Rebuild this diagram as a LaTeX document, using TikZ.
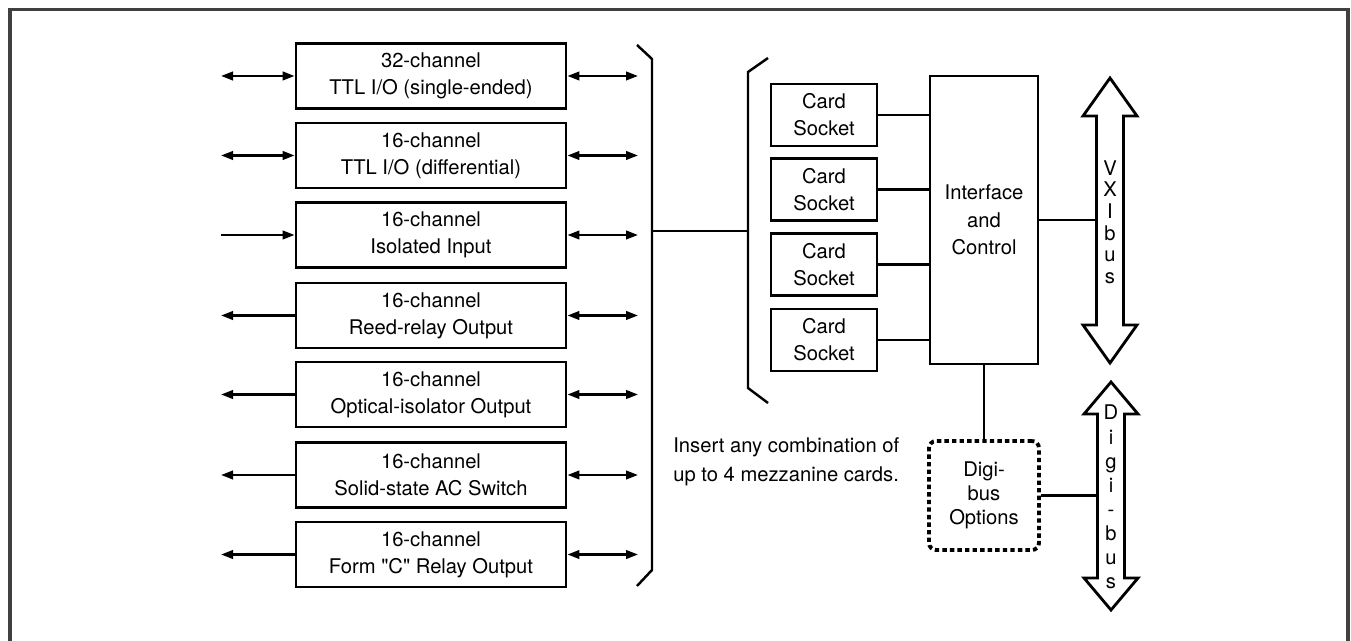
\documentclass[tikz,border=0pt]{standalone}
\usepackage{fontspec}
\setmainfont{TeX Gyre Heros}
\usetikzlibrary{arrows.meta,positioning,calc}

\tikzset{
    >={Triangle[length=0.24cm,width=0.17cm]},
    module/.style={draw,line width=1.6pt,minimum width=5.4cm,minimum height=1.3cm,align=center,inner sep=0pt},
    socket/.style={draw,line width=1.6pt,minimum width=2.12cm,minimum height=1.24cm,align=center,inner sep=0pt},
    wire/.style={line width=1.4pt},
    busshape/.style={draw,line width=1.6pt,fill=white,line join=miter},
    letters/.style={align=center,inner sep=0pt,font=\fontsize{11.5}{12.3}\selectfont},
}
% #1 = centre x, #2 = top tip, #3 = bottom tip, #4 = head length
\newcommand{\busarrow}[4]{%
    \draw[busshape] (#1,#2) -- (#1+27,#2+#4) -- (#1+13.5,#2+#4) -- (#1+13.5,#3-#4)
        -- (#1+27,#3-#4) -- (#1,#3) -- (#1-27,#3-#4) -- (#1-13.5,#3-#4)
        -- (#1-13.5,#2+#4) -- (#1-27,#2+#4) -- cycle;
}

\begin{document}
\begin{tikzpicture}[x=0.02cm,y=-0.02cm,font=\fontsize{11.5}{15.5}\selectfont]
    \useasboundingbox (0,0) rectangle (1351,641);
    \draw[line width=0.07cm,black!75] (10,700) -- (10,9.5) -- (1348,9.5) -- (1348,700);

    % I/O modules
    \foreach \i/\y/\tip/\txt in {1/76/<->/{32-channel\\TTL I/O (single-ended)},
                                 2/155.5/<->/{16-channel\\TTL I/O (differential)},
                                 3/235/->/{16-channel\\Isolated Input},
                                 4/315.5/<-/{16-channel\\Reed-relay Output},
                                 5/394.5/<-/{16-channel\\Optical-isolator Output},
                                 6/475/<-/{16-channel\\Solid-state AC Switch},
                                 7/554.5/<-/{16-channel\\Form \textquotedbl C\textquotedbl\ Relay Output}}
    {
        \node[module] (m\i) at (431,\y) {\txt};
        \coordinate (l\i) at (221,\y);
        \coordinate (r\i) at (638,\y);
        \draw[wire,\tip] (l\i) -- (m\i.west);
        \draw[wire,<->] (m\i.east) -- (r\i);
    }

    % brackets
    \draw[wire] (637,45) -- (652,59) -- (652,570) -- (637,586);
    \draw[wire] (768,58) -- (748,72) -- (748,388) -- (768,403);
    \coordinate (brl) at (652,231);
    \coordinate (brr) at (748,231);
    \draw[wire] (brl) -- (brr);

    % mezzanine sockets
    \foreach \i/\y in {1/115,2/189.5,3/264.5,4/340}
        \node[socket] (s\i) at (824,\y) {Card\\Socket};
    \node[socket,minimum width=2.16cm,minimum height=5.76cm] (ic) at (984,220) {Interface\\and\\Control};
    \foreach \i in {1,...,4}
        \draw[wire] (s\i.east) -- (s\i.east -| ic.west);

    \node[align=left,anchor=west,inner sep=0pt,font=\fontsize{11.5}{16.4}\selectfont] (note) at (673,462)
        {Insert any combination of\\up to 4 mezzanine cards.};

    % VXIbus
    \busarrow{1110}{78}{363}{38}
    \node[letters] (vxi) at (1110,222) {V\\X\\I\\b\\u\\s};
    \coordinate (vxil) at (1096.5,218);
    \draw[wire] (ic.east) -- (ic.east -| vxil);

    % Digi-bus
    \busarrow{1111}{382}{610}{32}
    \node[letters,font=\fontsize{11.5}{13.7}\selectfont] (dgb) at (1111,497) {D\\i\\g\\i\\-\\b\\u\\s};
    \node[draw,dash pattern=on 2.5pt off 1.8pt,line width=2.2pt,rounded corners=4pt,
          minimum width=2.2cm,minimum height=2.18cm,align=center,inner sep=0pt,
          font=\fontsize{11.5}{13.5}\selectfont] (dig) at (984,495.5) {Digi-\\bus\\Options};
    \coordinate (dgbl) at (1097.5,495.5);
    \draw[wire] (ic.south) -- (dig.north);
    \draw[wire] (dig.east) -- (dgbl);
\end{tikzpicture}
\end{document}
